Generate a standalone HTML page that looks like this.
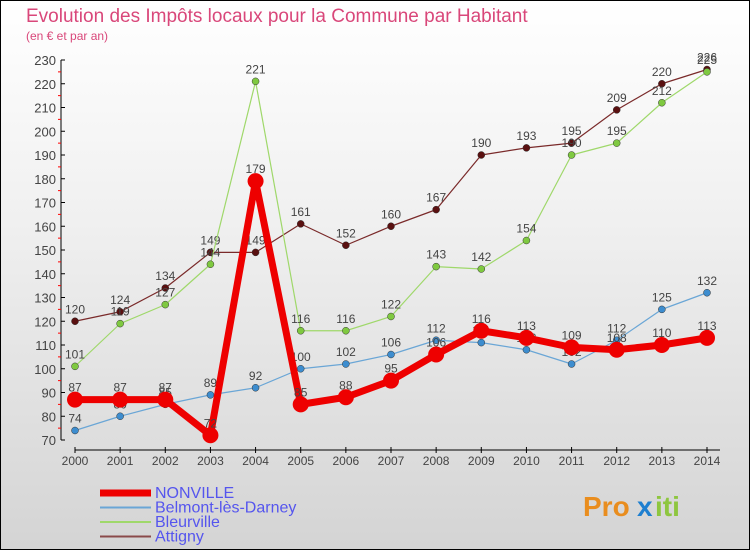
<!DOCTYPE html>
<html><head><meta charset="utf-8"><style>
body{margin:0;width:750px;height:550px;overflow:hidden;font-family:"Liberation Sans",sans-serif}
#c{position:absolute;left:0;top:0;width:748px;height:548px;border:1px solid #000;background:linear-gradient(#fff,#f0f0f0 40%,#d4d4d4)}
</style></head><body>
<div id="c">
<svg id="s" width="750" height="550" style="position:absolute;left:-1px;top:-1px">
<text x="26" y="22" font-size="19" fill="#d9477a">Evolution des Impôts locaux pour la Commune par Habitant</text>
<text x="26" y="40" font-size="12" fill="#d9477a">(en € et par an)</text>
<g id="axes"></g><g id="series"></g><g id="legend"></g>
<g font-size="28" font-weight="bold">
<text x="583" y="516" fill="#e98d1e">Pro</text><text x="637" y="516" fill="#1e7fd0">x</text><text x="655" y="516" fill="#8ec63f">iti</text>
</g>
</svg>
</div>
<script>
const years=[2000,2001,2002,2003,2004,2005,2006,2007,2008,2009,2010,2011,2012,2013,2014];
const yTicks=[70,80,90,100,110,120,130,140,150,160,170,180,190,200,210,220,230];
const seriesNames=["NONVILLE","Belmont-lès-Darney","Bleurville","Attigny"];
const nonville=[87,87,87,72,179,85,88,95,106,116,113,109,108,110,113];
const belmont=[74,80,85,89,92,100,102,106,112,111,108,102,112,125,132];
const bleurville=[101,119,127,144,221,116,116,122,143,142,154,190,195,212,225];
const attigny=[120,124,134,149,149,161,152,160,167,190,193,195,209,220,226];
const NS="http://www.w3.org/2000/svg";
const x=i=>75+i*(707-75)/14;
const y=v=>440-(v-70)*380/160;
function mk(p,t,a){const e=document.createElementNS(NS,t);for(const k in a)e.setAttribute(k,a[k]);p.appendChild(e);return e;}
const ax=document.getElementById('axes');
let l=mk(ax,'line',{x1:61,y1:60,x2:61,y2:440,stroke:'#000'});


yTicks.forEach(v=>{
  mk(ax,'line',{x1:61,x2:65,y1:y(v),y2:y(v),stroke:'#000'});
  if(v<230)mk(ax,'line',{x1:58,x2:61,y1:y(v+5),y2:y(v+5),stroke:'#f00'});
  const t=mk(ax,'text',{x:56,y:y(v)+5,'text-anchor':'end','font-size':13,fill:'#444'});
  t.textContent=v;
  
  
});
l=mk(ax,'line',{x1:75,y1:450,x2:720,y2:450,stroke:'#000'});


years.forEach((yr,i)=>{
  mk(ax,'line',{x1:x(i),x2:x(i),y1:447,y2:453,stroke:'#000'});
  const t=mk(ax,'text',{x:x(i),y:465,'text-anchor':'middle','font-size':12,fill:'#444'});
  t.textContent=yr;
  
  
});
const sg=document.getElementById('series');
const defs=[[attigny,'#7a2a2a','#5a1010',1.2,3.5,'attigny'],[bleurville,'#9fd86a','#7fc940',1.2,3.5,'bleurville'],[belmont,'#6aa6d6','#3d8dcf',1.2,3.5,'belmont'],[nonville,'#ee0000','#ee0000',7,8,'nonville']];
defs.forEach(([d,c,f,w,r,n])=>{
  const g=mk(sg,'g',{});
  
  
  const pl=mk(g,'polyline',{points:d.map((v,i)=>x(i)+','+y(v)).join(' '),fill:'none',stroke:c,'stroke-width':w,'stroke-linejoin':'round'});
  
  
  d.forEach((v,i)=>{
    const p=mk(g,'circle',{cx:x(i),cy:y(v),r:r,fill:f,stroke:w>2?'none':'#333','stroke-width':0.5});
    
    
    const t=mk(g,'text',{x:x(i),y:y(v)-8,'text-anchor':'middle','font-size':12,fill:'#444'});
    t.textContent=v;
    
    
  });
});
const lg=document.getElementById('legend');
const lc=['#ee0000','#6aa6d6','#9fd86a','#8a4a4a'],lw=[7,2,2,2];
seriesNames.forEach((n,i)=>{
  const yy=492+i*14.5;
  const g=mk(lg,'g',{});
  
  
  mk(g,'line',{x1:100,x2:151,y1:yy+1,y2:yy+1,stroke:lc[i],'stroke-width':lw[i]});
  const t=mk(g,'text',{x:155,y:yy+6,'font-size':16,fill:'#5555ee'});
  t.textContent=n;
});
</script>
</body></html>
